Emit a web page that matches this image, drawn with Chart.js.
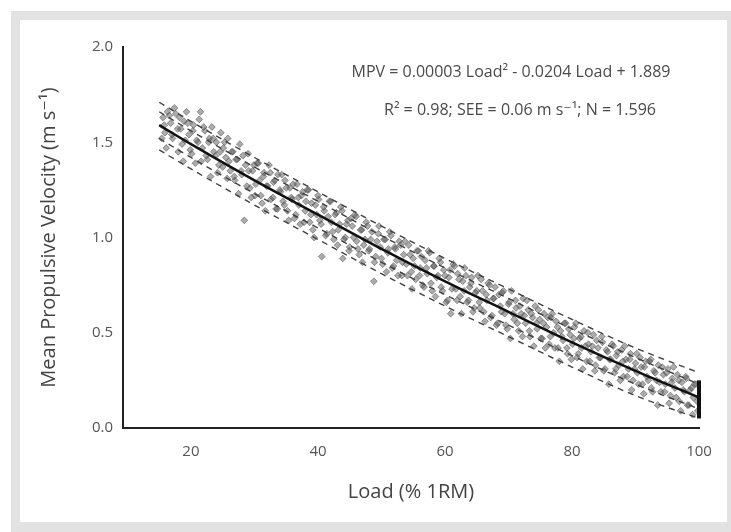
<!doctype html>
<html lang="en">
<head>
    <meta charset="utf-8">
    <title>MPV vs Load</title>
    <script src="https://cdn.jsdelivr.net/npm/chart.js@4.4.0/dist/chart.umd.min.js"></script>
    <style>
        body { margin: 0; background: #fff; }
        #frame { position: absolute; left: 11px; top: 11px; width: 720px; height: 521px; background: #e2e2e2; }
        #panel { position: absolute; left: 20px; top: 20px; width: 707px; height: 502px; background: #fff; }
        #wrap { position: absolute; left: 0; top: 0; width: 731px; height: 532px; }
    </style>
</head>
<body>
<div id="frame"></div>
<div id="panel"></div>
<div id="wrap"><canvas id="chart" width="731" height="532"></canvas></div>

<script>
    // regression curve and dashed band, read at these loads (% 1RM)
    let curveLoad = [15, 20, 30, 40, 50, 60, 70, 80, 90, 100];
    let curveMpv = [1.59, 1.49, 1.30, 1.12, 0.94, 0.77, 0.61, 0.45, 0.30, 0.16];
    let upperOuter = [1.71, 1.61, 1.42, 1.24, 1.06, 0.89, 0.73, 0.57, 0.42, 0.29];
    let upperInner = [1.66, 1.56, 1.37, 1.19, 1.01, 0.84, 0.68, 0.52, 0.37, 0.23];
    let lowerInner = [1.52, 1.42, 1.23, 1.05, 0.87, 0.70, 0.54, 0.38, 0.23, 0.10];
    let lowerOuter = [1.46, 1.36, 1.17, 0.99, 0.81, 0.64, 0.48, 0.32, 0.17, 0.05];

    // points stacked at 100 % 1RM
    let maxLoad = [100, 100];
    let maxMpv = [0.05, 0.25];

    // individual observations [load, mpv]
    let observed = [
        [15.6,1.63],[15.9,1.55],[16.3,1.66],[16.8,1.60],[17.1,1.52],[17.4,1.68],[17.9,1.57],[18.2,1.63],[18.6,1.49],[18.9,1.61],
        [19.3,1.66],[19.7,1.54],[20.1,1.44],[20.4,1.59],[20.9,1.51],[21.3,1.62],[21.5,1.66],[21.8,1.47],[22.2,1.56],[22.6,1.41],
        [22.9,1.52],[23.3,1.58],[23.6,1.45],[24.0,1.50],[24.4,1.38],[24.7,1.55],[25.1,1.47],
        [25.5,1.42],[25.8,1.52],[26.2,1.35],[26.6,1.45],[26.9,1.30],[27.3,1.41],[27.7,1.49],[28.0,1.33],[28.4,1.09],[28.6,1.38],
        [29.0,1.44],[29.3,1.26],[29.7,1.35],[30.1,1.22],[30.4,1.39],[30.8,1.30],[31.2,1.18],[31.5,1.34],[31.9,1.27],[32.3,1.38],
        [32.6,1.20],[33.0,1.29],[33.4,1.15],[33.7,1.33],[34.1,1.24],[34.5,1.19],[34.8,1.30],
        [35.2,1.14],[35.6,1.26],[35.9,1.20],[36.3,1.10],[36.7,1.28],[37.0,1.17],[37.4,1.22],[37.8,1.08],[38.1,1.19],[38.5,1.25],
        [38.9,1.12],[39.2,1.04],[39.6,1.17],[40.0,1.22],[40.3,1.09],[40.6,0.90],[41.0,1.14],[41.4,1.02],[41.8,1.19],[42.1,1.08],
        [42.5,0.99],[42.9,1.13],[43.2,1.04],[43.6,1.16],[43.9,0.89],[44.3,1.00],[44.7,1.09],
        [45.0,0.95],[45.4,1.06],[45.8,1.12],[46.1,0.98],[46.5,0.91],[46.9,1.04],[47.2,0.96],[47.6,1.08],[48.0,0.93],[48.3,0.99],
        [48.8,0.77],[49.1,0.90],[49.5,1.02],[49.8,0.95],[50.2,0.86],[50.6,0.99],[51.0,0.92],[51.3,1.03],[51.7,0.84],[52.1,0.95],
        [52.4,0.88],[52.8,0.98],[53.2,0.80],[53.5,0.91],[53.9,0.86],[54.3,0.96],[54.7,0.82],
        [55.0,0.89],[55.4,0.78],[55.8,0.93],[56.1,0.84],[56.5,0.75],[56.9,0.88],[57.2,0.81],[57.6,0.92],[58.0,0.72],[58.3,0.85],
        [58.7,0.79],[59.1,0.89],[59.4,0.74],[59.8,0.83],[60.2,0.66],[60.6,0.79],[60.9,0.60],[61.3,0.86],[61.7,0.73],[62.0,0.81],
        [62.4,0.69],[62.8,0.77],[63.1,0.84],[63.5,0.66],[63.9,0.74],[64.2,0.79],[64.6,0.63],
        [65.0,0.72],[65.4,0.66],[65.7,0.78],[66.1,0.61],[66.5,0.70],[66.8,0.76],[67.2,0.58],[67.6,0.68],[67.9,0.74],[68.3,0.55],
        [68.7,0.64],[69.0,0.71],[69.4,0.60],[69.8,0.52],[70.1,0.66],[70.5,0.72],[70.9,0.57],[71.2,0.63],[71.6,0.51],[72.0,0.60],
        [72.3,0.68],[72.7,0.55],[73.1,0.62],[73.4,0.48],[73.8,0.58],[74.2,0.64],[74.5,0.52],
        [74.9,0.57],[75.3,0.47],[75.6,0.60],[76.0,0.53],[76.4,0.44],[76.7,0.58],[77.1,0.50],[77.5,0.56],[77.8,0.42],[78.2,0.51],
        [78.6,0.46],[79.0,0.55],[79.3,0.39],[79.7,0.49],[80.1,0.44],[80.4,0.53],[80.8,0.37],[81.2,0.47],[81.5,0.42],[81.9,0.51],
        [82.3,0.35],[82.6,0.44],[83.0,0.40],[83.4,0.49],[83.7,0.33],[84.1,0.42],[84.5,0.37],
        [84.8,0.45],[85.2,0.31],[85.6,0.40],[85.9,0.36],[86.3,0.44],[86.7,0.29],[87.0,0.38],[87.4,0.33],[87.8,0.41],[88.1,0.27],
        [88.5,0.36],[88.9,0.31],[89.2,0.39],[89.6,0.25],[90.0,0.34],[90.3,0.29],[90.7,0.37],[91.1,0.23],[91.4,0.32],[91.8,0.27],
        [92.2,0.35],[92.5,0.21],[92.9,0.30],[93.3,0.25],[93.6,0.33],[94.0,0.19],[94.4,0.28],[94.7,0.23],[95.1,0.31],[95.5,0.17],
        [95.8,0.26],[96.2,0.21],[96.6,0.28],[96.9,0.14],[97.3,0.24],[97.7,0.19],[98.0,0.26],[98.4,0.12],[98.8,0.21],[99.1,0.16],
        [99.5,0.23],[99.8,0.09],
        [15.4,1.52],[15.8,1.59],[16.1,1.47],[16.6,1.64],[17.0,1.54],[17.6,1.65],[18.0,1.45],[18.4,1.57],[18.8,1.40],[19.1,1.51],
        [19.5,1.60],[19.9,1.46],[20.3,1.56],[20.7,1.39],[21.1,1.50],[21.6,1.40],[22.0,1.58],[22.4,1.43],[22.8,1.50],[23.1,1.32],
        [23.5,1.52],[23.9,1.43],[24.2,1.34],[24.6,1.45],[25.0,1.37],[25.3,1.50],[25.7,1.31],[26.0,1.40],[26.4,1.45],[26.8,1.32],
        [27.1,1.41],[27.5,1.23],[27.9,1.35],[28.2,1.43],[28.8,1.27],[29.1,1.35],[29.5,1.21],[29.9,1.38],[30.2,1.28],[30.6,1.39],
        [31.0,1.22],[31.4,1.32],[31.7,1.14],[32.1,1.27],[32.5,1.34],[32.9,1.21],[33.2,1.30],[33.6,1.15],[34.0,1.25],[34.3,1.33],
        [34.7,1.17],[35.0,1.26],[35.4,1.09],[35.8,1.21],[36.1,1.28],[36.5,1.12],[36.9,1.21],[37.2,1.07],[37.6,1.24],[38.0,1.14],
        [38.3,1.25],[38.7,1.08],[39.0,1.18],[39.4,1.00],[39.8,1.12],[40.1,1.20],[40.5,1.07],[40.9,1.16],[41.2,1.01],[41.6,1.11],
        [42.0,1.19],[42.3,1.03],[42.7,1.12],[43.1,0.96],[43.4,1.07],[43.8,1.14],[44.1,0.99],[44.5,1.07],[44.9,0.93],[45.2,1.10],
        [45.6,1.00],[46.0,1.11],[46.3,0.94],[46.7,1.04],[47.0,0.87],[47.4,0.99],[47.8,1.06],[48.1,0.94],[48.5,1.03],[48.9,0.87],
        [49.3,0.98],[49.6,1.06],[50.0,0.89],[50.4,0.99],[50.8,0.82],[51.1,0.94],[51.5,1.01],[51.9,0.85],[52.2,0.94],[52.6,0.80],
        [53.0,0.96],[53.3,0.87],[53.7,0.98],[54.1,0.80],[54.5,0.91],[54.8,0.73],[55.2,0.85],[55.6,0.93],[56.0,0.80],[56.3,0.90],
        [56.7,0.74],[57.1,0.84],[57.4,0.93],[57.8,0.76],[58.2,0.85],[58.5,0.69],[58.9,0.80],[59.3,0.87],[59.6,0.72],[60.0,0.80],
        [60.4,0.67],[60.8,0.83],[61.1,0.73],[61.5,0.85],[61.9,0.67],[62.2,0.78],[62.6,0.60],[63.0,0.72],[63.3,0.80],[63.7,0.67],
        [64.1,0.76],[64.4,0.61],[64.8,0.71],[65.2,0.80],[65.5,0.63],[65.9,0.72],[66.3,0.56],[66.6,0.67],[67.0,0.75],[67.4,0.59],
        [67.7,0.68],[68.1,0.54],[68.5,0.70],[68.9,0.61],[69.2,0.72],[69.6,0.54],[70.0,0.65],[70.3,0.47],[70.7,0.60],[71.1,0.67],
        [71.4,0.55],[71.8,0.64],[72.2,0.48],[72.5,0.59],[72.9,0.67],[73.3,0.51],[73.6,0.60],[74.0,0.43],[74.4,0.55],[74.7,0.62],
        [75.1,0.47],[75.5,0.55],[75.8,0.42],[76.2,0.58],[76.6,0.48],[76.9,0.60],[77.3,0.42],[77.7,0.53],[78.0,0.35],[78.4,0.48],
        [78.8,0.55],[79.2,0.42],[79.5,0.52],[79.9,0.36],[80.3,0.47],[80.6,0.55],[81.0,0.39],[81.4,0.48],[81.7,0.31],[82.1,0.43],
        [82.5,0.50],[82.8,0.35],[83.2,0.43],[83.6,0.30],[83.9,0.46],[84.3,0.37],[84.7,0.48],[85.0,0.30],[85.4,0.41],[85.8,0.23],
        [86.1,0.36],[86.5,0.43],[86.9,0.31],[87.2,0.40],[87.6,0.25],[88.0,0.35],[88.3,0.43],[88.7,0.27],[89.1,0.36],[89.4,0.20],
        [89.8,0.31],[90.2,0.39],[90.5,0.23],[90.9,0.32],[91.3,0.18],[91.6,0.35],[92.0,0.25],[92.4,0.36],[92.7,0.19],[93.1,0.29],
        [93.5,0.12],[93.8,0.24],[94.2,0.32],[94.6,0.19],[94.9,0.29],[95.3,0.13],[95.7,0.24],[96.0,0.32],[96.4,0.16],[96.8,0.25],
        [97.1,0.09],[97.5,0.20],[97.9,0.27],[98.2,0.12],[98.6,0.20],[99.0,0.07],[99.3,0.23],[99.7,0.14]
    ];

    let xTicks = [20, 40, 60, 80, 100];
    let equationText = 'MPV = 0.00003 Load\u00B2 - 0.0204 Load + 1.889';
    let statsText = 'R\u00B2 = 0.98; SEE = 0.06 m s\u207B\u00B9; N = 1.596';

    const FONT = "'Open Sans', 'DejaVu Sans', sans-serif";
    const INK = '#222';

    function pairs(xs, ys) {
        return xs.map(function (x, i) { return {x: x, y: ys[i]}; });
    }

    function dashed(values) {
        return {
            data: pairs(curveLoad, values),
            showLine: true,
            borderColor: '#404040',
            borderWidth: 1.4,
            borderDash: [6, 5],
            pointRadius: 0,
            cubicInterpolationMode: 'monotone',
            order: 1
        };
    }

    // equation text in the top right
    const annotate = {
        id: 'annotate',
        afterDraw(chart) {
            const ctx = chart.ctx;
            ctx.save();
            ctx.fillStyle = '#4a4a4a';
            ctx.font = "16px " + FONT;
            ctx.textAlign = 'center';
            ctx.textBaseline = 'middle';
            ctx.fillText(equationText, 511, 72);
            ctx.fillText(statsText, 520, 110);
            ctx.restore();
        }
    };

    new Chart(document.getElementById('chart'), {
        type: 'scatter',
        data: {
            datasets: [
                {
                    data: pairs(curveLoad, curveMpv),
                    showLine: true,
                    borderColor: '#111',
                    borderWidth: 2.5,
                    pointRadius: 0,
                    cubicInterpolationMode: 'monotone',
                    order: 0
                },
                {
                    data: pairs(maxLoad, maxMpv),
                    showLine: true,
                    borderColor: '#111',
                    borderWidth: 4,
                    pointRadius: 0,
                    clip: false,
                    order: 0
                },
                dashed(upperOuter),
                dashed(upperInner),
                dashed(lowerInner),
                dashed(lowerOuter),
                {
                    data: observed.map(function (p) { return {x: p[0], y: p[1]}; }),
                    pointStyle: 'rectRot',
                    pointRadius: 3.4,
                    backgroundColor: 'rgba(90,90,90,0.5)',
                    borderColor: 'rgba(50,50,50,0.55)',
                    borderWidth: 0.8,
                    order: 3
                }
            ]
        },
        options: {
            responsive: false,
            animation: false,
            events: [],
            layout: { padding: { left: 0, top: 47, right: 32, bottom: 0 } },
            plugins: { legend: { display: false }, tooltip: { enabled: false } },
            scales: {
                x: {
                    type: 'linear',
                    min: 9.3,
                    max: 100,
                    afterBuildTicks: function (scale) {
                        scale.ticks = xTicks.map(function (v) { return {value: v}; });
                    },
                    afterFit: function (scale) { scale.height = 104; },
                    grid: { display: false, drawOnChartArea: false, tickLength: 7, tickColor: INK, tickWidth: 1.5 },
                    border: { color: INK, width: 2 },
                    ticks: { color: '#555', font: { family: FONT, size: 15 }, padding: 8 },
                    title: {
                        display: true,
                        text: 'Load (% 1RM)',
                        color: '#444',
                        font: { family: FONT, size: 20 },
                        padding: { top: 0, bottom: 28 }
                    }
                },
                y: {
                    min: 0,
                    max: 2,
                    ticks: {
                        stepSize: 0.5,
                        color: '#555',
                        font: { family: FONT, size: 15 },
                        padding: 3,
                        callback: function (value) { return value.toFixed(1); }
                    },
                    afterFit: function (scale) { scale.width = 123; },
                    grid: { display: false, drawOnChartArea: false, tickLength: 7, tickColor: INK, tickWidth: 1.5 },
                    border: { color: INK, width: 2 },
                    title: {
                        display: true,
                        text: 'Mean Propulsive Velocity (m s\u207B\u00B9)',
                        color: '#444',
                        font: { family: FONT, size: 20 },
                        padding: { top: 37, bottom: 0 }
                    }
                }
            }
        },
        plugins: [annotate]
    });
</script>
</body>
</html>
